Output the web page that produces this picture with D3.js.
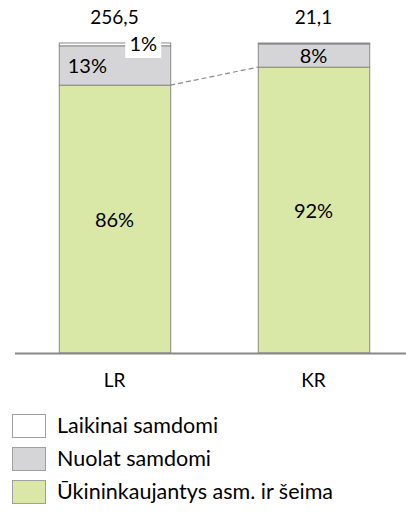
<!DOCTYPE html>
<html>
<head>
<meta charset="utf-8">
<style>
  body { margin: 0; background: #fff; }
  svg text { font-family: Lato, "Open Sans", sans-serif; fill: #000; }
</style>
</head>
<body>
<svg id="chart"></svg>
<script src="https://cdn.jsdelivr.net/npm/d3@7"></script>
<script>

var categories = ["LR", "KR"];
var totals = ["256,5", "21,1"];
var seriesNames = ["Ūkininkaujantys asm. ir šeima", "Nuolat samdomi", "Laikinai samdomi"];
var familyShare = [86.4, 92.2];
var permanentShare = [12.7, 7.5];
var temporaryShare = [0.9, 0.3];
var shareLabels = [["86%", "13%", "1%"], ["92%", "8%", ""]];

var colors = ["#d9e7a7", "#d5d5d7", "#ffffff"];
var legendOrder = [2, 1, 0];

var width = 406, height = 512;
var svg = d3.select("#chart").attr("width", width).attr("height", height);

var x = d3.scaleBand()
    .domain(categories)
    .range([15, 413])
    .paddingInner(0.44)
    .paddingOuter(0.22);

var y = d3.scaleLinear()
    .domain([0, 100])
    .range([353, 43]);

var rows = categories.map(function(c, i) {
	return {cat: c, family: familyShare[i], permanent: permanentShare[i], temporary: temporaryShare[i]};
});
var stack = d3.stack().keys(["family", "permanent", "temporary"]);
var layers = stack(rows);

// connector between the tops of the green segments
svg.append("line")
    .attr("x1", x("LR") + x.bandwidth())
    .attr("y1", y(layers[0][0][1]))
    .attr("x2", x("KR"))
    .attr("y2", y(layers[0][1][1]))
    .attr("stroke", "#8c8c8c")
    .attr("stroke-width", 1.2)
    .attr("stroke-dasharray", "5,3");

var layer = svg.selectAll(".layer")
    .data(layers)
    .enter().append("g")
    .attr("class", "layer")
    .attr("fill", (d, i) => colors[i]);

layer.selectAll("rect")
    .data(d => d)
    .enter().append("rect")
    .attr("x", d => x(d.data.cat) + 0.5)
    .attr("y", d => y(d[1]))
    .attr("width", x.bandwidth())
    .attr("height", d => y(d[0]) - y(d[1]))
    .attr("stroke", "#8a8a8a")
    .attr("stroke-width", 1);

// axis baseline
svg.append("line")
    .attr("x1", 15).attr("x2", 406)
    .attr("y1", y(0) + 0.5).attr("y2", y(0) + 0.5)
    .attr("stroke", "#888")
    .attr("stroke-width", 2);

var xAxis = svg.append("g")
    .attr("transform", "translate(0," + y(0) + ")")
    .call(d3.axisBottom(x).tickSize(0).tickPadding(21));
xAxis.select(".domain").remove();
xAxis.selectAll("text")
    .style("font-family", "Lato, sans-serif")
    .style("font-size", "19px");

// totals
svg.selectAll(".total")
    .data(categories)
    .enter().append("text")
    .attr("class", "total")
    .attr("x", d => x(d) + x.bandwidth() / 2)
    .attr("y", 24)
    .attr("text-anchor", "middle")
    .style("font-size", "19px")
    .text((d, i) => totals[i]);

// segment labels
categories.forEach(function(c, i) {
	var cx = x(c) + x.bandwidth() / 2;
	var g0 = layers[0][i], g1 = layers[1][i], g2 = layers[2][i];
	svg.append("text")
	    .attr("x", cx)
	    .attr("y", (y(g0[0]) + y(g0[1])) / 2 + 8)
	    .attr("text-anchor", "middle")
	    .style("font-size", "20px")
	    .text(shareLabels[i][0]);
	if (i == 0) {
		svg.append("text")
		    .attr("x", x(c) + 9)
		    .attr("y", 73)
		    .style("font-size", "20px")
		    .text(shareLabels[i][1]);
		var lx = x(c) + x.bandwidth() - 27;
		svg.append("rect")
		    .attr("x", lx - 18).attr("y", y(g2[1]) - 9)
		    .attr("width", 36).attr("height", 24)
		    .attr("fill", "#fff");
		svg.append("text")
		    .attr("x", lx)
		    .attr("y", y(g2[1]) + 8)
		    .attr("text-anchor", "middle")
		    .style("font-size", "20px")
		    .text(shareLabels[i][2]);
	} else {
		svg.append("text")
		    .attr("x", cx)
		    .attr("y", (y(g1[0]) + y(g1[1])) / 2 + 7)
		    .attr("text-anchor", "middle")
		    .style("font-size", "20px")
		    .text(shareLabels[i][1]);
	}
});

// legend
var legend = svg.selectAll(".legend")
    .data(legendOrder)
    .enter().append("g")
    .attr("class", "legend")
    .attr("transform", (d, i) => "translate(12," + (414 + i * 33) + ")");
legend.append("rect")
    .attr("x", 0.5).attr("y", 0.5)
    .attr("width", 33).attr("height", 23)
    .attr("fill", d => colors[d])
    .attr("stroke", "#a0a0a0");
legend.append("text")
    .attr("x", 45)
    .attr("y", 19)
    .style("font-size", "21.5px")
    .text(d => seriesNames[d]);

</script>
</body>
</html>
